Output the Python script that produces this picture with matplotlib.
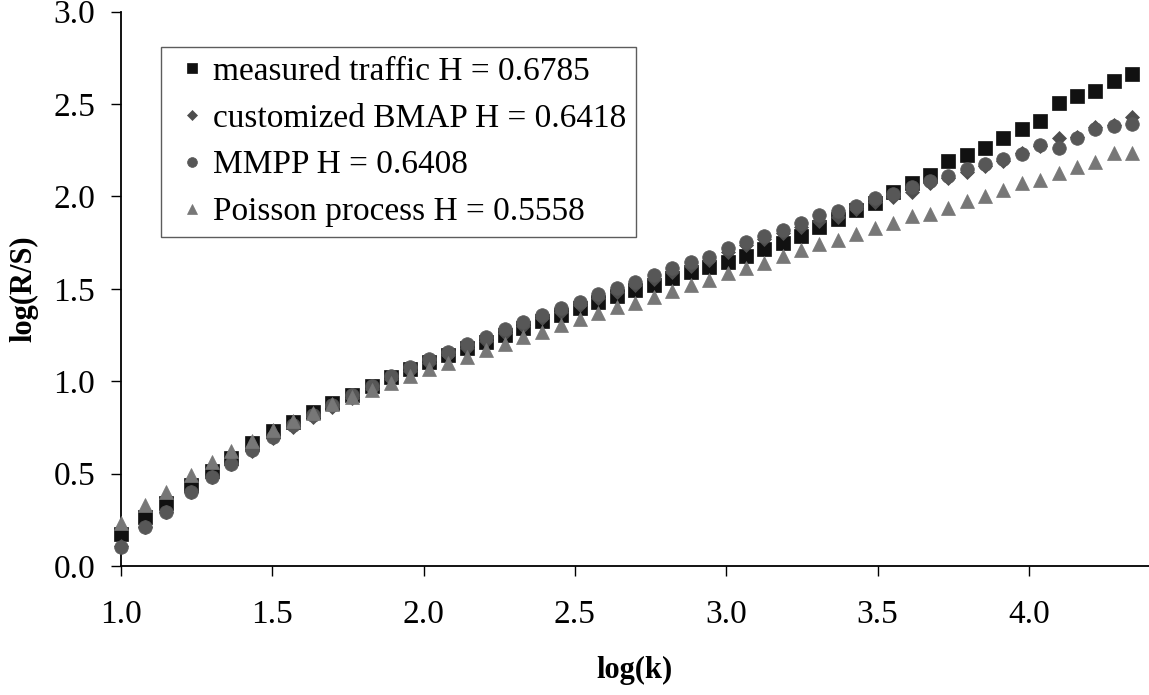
import matplotlib
matplotlib.use('Agg')
import matplotlib.pyplot as plt
from matplotlib.ticker import FormatStrFormatter, MultipleLocator

# log(k) positions
log_k = [1.000, 1.079, 1.148, 1.230, 1.302, 1.363, 1.432, 1.503, 1.567, 1.633,
         1.698, 1.764, 1.828, 1.892, 1.955, 2.019, 2.082, 2.144, 2.206, 2.268,
         2.329, 2.391, 2.454, 2.516, 2.577, 2.639, 2.700, 2.761, 2.821, 2.883,
         2.944, 3.005, 3.065, 3.126, 3.186, 3.247, 3.307, 3.369, 3.430, 3.490,
         3.552, 3.613, 3.673, 3.734, 3.794, 3.855, 3.916, 3.977, 4.037, 4.098,
         4.159, 4.219, 4.281, 4.342]

measured = [0.173, 0.267, 0.343, 0.438, 0.516, 0.583, 0.664, 0.730, 0.780, 0.835,
            0.880, 0.927, 0.976, 1.021, 1.064, 1.106, 1.140, 1.178, 1.214, 1.250,
            1.286, 1.326, 1.358, 1.394, 1.430, 1.461, 1.495, 1.521, 1.557, 1.593,
            1.620, 1.647, 1.677, 1.715, 1.749, 1.786, 1.835, 1.876, 1.926, 1.966,
            2.025, 2.071, 2.116, 2.193, 2.224, 2.264, 2.318, 2.363, 2.408, 2.504,
            2.543, 2.572, 2.624, 2.662]

bmap = [0.110, 0.210, 0.290, 0.400, 0.480, 0.550, 0.625, 0.695, 0.754, 0.808,
        0.860, 0.910, 0.960, 1.010, 1.055, 1.100, 1.140, 1.180, 1.220, 1.260,
        1.300, 1.340, 1.375, 1.410, 1.450, 1.485, 1.520, 1.555, 1.590, 1.625,
        1.655, 1.700, 1.735, 1.770, 1.800, 1.835, 1.867, 1.890, 1.930, 1.970,
        1.998, 2.025, 2.071, 2.098, 2.134, 2.165, 2.190, 2.237, 2.275, 2.314,
        2.323, 2.377, 2.385, 2.428]

mmpp = [0.104, 0.209, 0.290, 0.399, 0.483, 0.552, 0.628, 0.700, 0.765, 0.815,
        0.870, 0.925, 0.976, 1.030, 1.075, 1.118, 1.160, 1.201, 1.241, 1.281,
        1.319, 1.358, 1.394, 1.427, 1.470, 1.503, 1.538, 1.575, 1.611, 1.647,
        1.674, 1.719, 1.753, 1.786, 1.818, 1.854, 1.897, 1.923, 1.948, 1.990,
        2.013, 2.049, 2.085, 2.110, 2.148, 2.175, 2.201, 2.229, 2.278, 2.260,
        2.314, 2.363, 2.381, 2.392]

poisson = [0.234, 0.330, 0.402, 0.492, 0.565, 0.622, 0.676, 0.736, 0.785, 0.830,
           0.875, 0.916, 0.952, 0.989, 1.028, 1.064, 1.097, 1.133, 1.169, 1.201,
           1.238, 1.268, 1.304, 1.335, 1.367, 1.400, 1.425, 1.454, 1.490, 1.521,
           1.548, 1.584, 1.611, 1.641, 1.677, 1.710, 1.744, 1.764, 1.797, 1.827,
           1.858, 1.894, 1.905, 1.936, 1.977, 2.002, 2.033, 2.074, 2.089, 2.125,
           2.157, 2.188, 2.237, 2.237]

labels = ['measured traffic H = 0.6785', 'customized BMAP H = 0.6418',
          'MMPP H = 0.6408', 'Poisson process H = 0.5558']

plt.rcParams['font.family'] = ['Liberation Serif', 'DejaVu Serif']

fig = plt.figure(figsize=(11.49, 6.95), dpi=100)
ax = fig.add_axes([0.1053, 0.1856, 0.8947, 0.7976])

# same draw order as the original: squares first, triangles on top
ax.plot(log_k, measured, 's', ms=9.4, color='#111111', mec='#111111', mew=0.5,
        label=labels[0], clip_on=False, zorder=3)
ax.plot(log_k, bmap, 'D', ms=7.0, color='#4d4d4d', mec='#4d4d4d', mew=0.5,
        label=labels[1], clip_on=False, zorder=4)
ax.plot(log_k, mmpp, 'o', ms=9.8, color='#575757', mec='#575757', mew=0.5,
        label=labels[2], clip_on=False, zorder=5)
ax.plot(log_k, poisson, '^', ms=10, color='#777777', mec='#777777', mew=0.5,
        label=labels[3], clip_on=False, zorder=6)

ax.set_xlim(1.0, 4.397)
ax.set_ylim(0.0, 3.0)
ax.xaxis.set_major_locator(MultipleLocator(0.5))
ax.yaxis.set_major_locator(MultipleLocator(0.5))
ax.xaxis.set_major_formatter(FormatStrFormatter('%.1f'))
ax.yaxis.set_major_formatter(FormatStrFormatter('%.1f'))

for side in ['top', 'right']:
    ax.spines[side].set_visible(False)
for side in ['left', 'bottom']:
    ax.spines[side].set_linewidth(1.3)
    ax.spines[side].set_color('black')

ax.tick_params(axis='both', direction='out', length=7, width=1, labelsize=24, color='black')
ax.tick_params(axis='x', pad=17)
ax.tick_params(axis='y', pad=11.5)

ax.set_xlabel('log(k)', fontsize=22, fontweight='bold', labelpad=19)
ax.set_ylabel('log(R/S)', fontsize=22, fontweight='bold', labelpad=11)

leg = ax.legend(loc='upper left', bbox_to_anchor=(0.0386, 0.937), borderaxespad=0,
                fontsize=24, frameon=True, fancybox=False, edgecolor='#333333',
                borderpad=0.29, labelspacing=0.49, handlelength=1.28, handletextpad=0.0,
                markerscale=0.72)
leg.get_frame().set_linewidth(1.0)

fig.savefig('out.png', dpi=100)
plt.close()
